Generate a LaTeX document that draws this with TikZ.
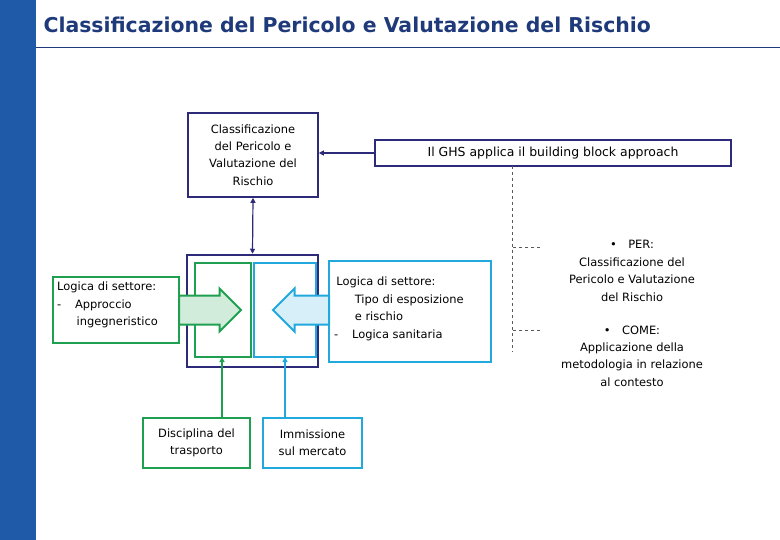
\documentclass[tikz,border=0pt]{standalone}
\usepackage{fontspec}
\setmainfont{DejaVu Sans}
\usetikzlibrary{arrows.meta,shapes.arrows}
\definecolor{navy}{HTML}{2E2A7A}
\definecolor{gr}{HTML}{1FA050}
\definecolor{bl}{HTML}{21A8DC}
\definecolor{side}{HTML}{1E5AA8}
\definecolor{tit}{HTML}{1F3A7A}
\begin{document}
\begin{tikzpicture}[x=1bp,y=-1bp,
  txt/.style={font=\fontsize{11.5}{17.5}\selectfont, text=black, align=center, inner sep=1bp},
  conn/.style={-{Triangle[width=5bp,length=5bp]}, line width=1.2bp}]
\useasboundingbox (0,0) rectangle (780,540);
\fill[side] (0,0) rectangle (36,540);
\node[anchor=west, text=tit, font=\fontsize{20.5}{24}\selectfont\bfseries] (title) at (40,25) {Classificazione del Pericolo e Valutazione del Rischio};
\draw[tit, line width=0.6bp] (36,47) -- (780,47);
% top box
\node[draw=navy, line width=1.6bp, minimum width=130bp, minimum height=84bp, txt] (top) at (253,155) {Classificazione\\del Pericolo e\\Valutazione del\\Rischio};
\node[draw=navy, line width=1.6bp, minimum width=356bp, minimum height=26bp, txt, font=\fontsize{12.5}{14}\selectfont] (ghs) at (553,153) {Il GHS applica il building block approach};
\draw[conn, navy] (ghs.west) -- (top.east |- ghs.west);
% outer box
\node[draw=navy, line width=2.5bp, minimum width=131bp, minimum height=112bp] (outer) at (252.5,311) {};
\draw[navy, line width=1.2bp, {Triangle[width=5bp,length=5bp]}-{Triangle[width=5bp,length=5bp]}] (top.south) -- (outer.north);
\node[draw=gr, line width=2bp, minimum width=56bp, minimum height=94bp] (gin) at (223,310) {};
\node[draw=bl, line width=2bp, minimum width=62bp, minimum height=94bp] (bin) at (285,310) {};
% left / right text boxes
\node[draw=gr, line width=2bp, minimum width=126bp, minimum height=66bp, anchor=west] (left) at (52,310) {};
\node[txt, align=left, anchor=north west] (ltxt) at (56,281) {Logica di settore:\\-\hspace{1.2em}Approccio\\\hspace{1.7em}ingegneristico};
\node[draw=bl, line width=2bp, minimum width=162bp, minimum height=101bp, anchor=west] (right) at (328,311.5) {};
\node[txt, align=left, anchor=north west] (rtxt) at (333,276) {\hspace{0.2em}Logica di settore:\\\hspace{1.8em}Tipo di esposizione\\\hspace{1.8em}e rischio\\-\hspace{1.2em}Logica sanitaria};
% block arrows
\node[single arrow, draw=gr, line width=2bp, fill=gr!20, minimum height=62bp, single arrow head extend=7bp, inner sep=0pt, anchor=tail] (garr) at (178,310) {\rule{0pt}{27bp}};
\node[single arrow, draw=bl, line width=2bp, fill=bl!18, shape border rotate=180, minimum height=56bp, single arrow head extend=7bp, inner sep=0pt, anchor=tail] (barr) at (330,310) {\rule{0pt}{27bp}};
% bottom boxes
\node[draw=gr, line width=2bp, minimum width=107bp, minimum height=50bp, txt] (disc) at (196.5,443) {Disciplina del\\trasporto};
\node[draw=bl, line width=2bp, minimum width=99bp, minimum height=50bp, txt] (imm) at (312.5,443) {Immissione\\sul mercato};
\coordinate (ga) at (222,357);
\coordinate (ba) at (285,357);
\draw[conn, gr] (disc.north -| ga) -- (ga);
\draw[conn, bl] (imm.north -| ba) -- (ba);
% dashed bracket
\coordinate (d0) at (512,166);
\coordinate (d1) at (512,352);
\coordinate (h1) at (540,247);
\coordinate (h2) at (540,330);
\draw[gray!70!black, dashed, line width=0.6bp] (d0) -- (d1);
\draw[gray!70!black, dashed, line width=0.6bp] (h1) -- (h1 -| d0);
\draw[gray!70!black, dashed, line width=0.6bp] (h2) -- (h2 -| d0);
\node[txt] (per) at (632,271) {\textbullet\hspace{1em}PER:\\Classificazione del\\Pericolo e Valutazione\\del Rischio};
\node[txt] (come) at (632,356) {\textbullet\hspace{1em}COME:\\Applicazione della\\metodologia in relazione\\al contesto};
\end{tikzpicture}
\end{document}
